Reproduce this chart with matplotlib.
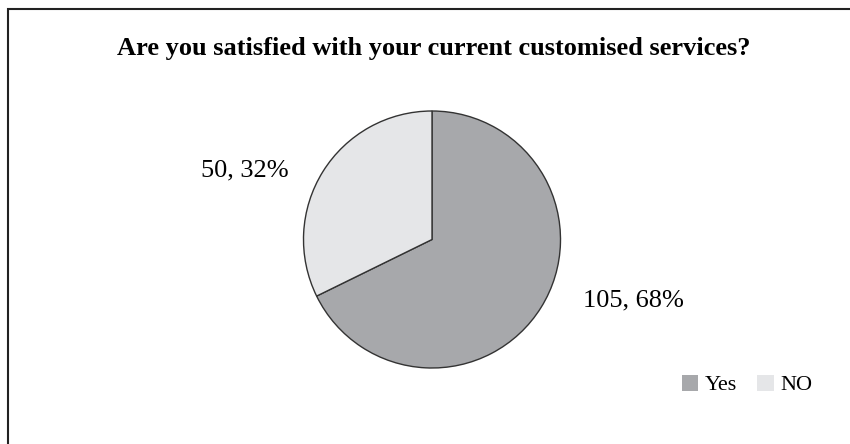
import matplotlib
matplotlib.use("Agg")
import matplotlib.pyplot as plt
from matplotlib.patches import Rectangle, Patch

# survey answers
labels = ["Yes", "NO"]
counts = [105, 50]
colors = ["#a7a8ab", "#e5e6e8"]
title = "Are you satisfied with your current customised services?"

plt.rcParams["font.family"] = ["Liberation Serif", "DejaVu Serif"]

W, H = 850, 444
fig = plt.figure(figsize=(W / 100, H / 100), dpi=100)
fig.patch.set_facecolor("white")

# chart frame (runs off the right and bottom edges)
fig.patches.append(Rectangle((8 / W, -0.1), 1.2, (H - 9) / H + 0.1,
                             transform=fig.transFigure, fill=False,
                             edgecolor="#222222", linewidth=1.5))

ax = fig.add_axes([0, 0, 1, 1])
ax.set_xlim(0, W)
ax.set_ylim(0, H)
ax.set_aspect("equal")
ax.axis("off")

wedges, _ = ax.pie(counts, colors=colors, startangle=90, counterclock=False,
                   center=(432, H - 239.5), radius=128.5,
                   wedgeprops=dict(edgecolor="#333333", linewidth=1.0))
ax.set_xlim(0, W)
ax.set_ylim(0, H)

total = sum(counts)
pct = [round(c / total * 100) for c in counts]
ax.text(633, H - 300, f"{counts[0]}, {pct[0]}%", fontsize=19,
        ha="center", va="center")
ax.text(245, H - 170, f"{counts[1]}, {pct[1]}%", fontsize=19,
        ha="center", va="center")

fig.text(434 / W, 1 - 48 / H, title, fontsize=19, fontweight="bold",
         ha="center", va="center")

handles = [Patch(facecolor=c, edgecolor="none") for c in colors]
ax.legend(handles, labels, loc="center", bbox_to_anchor=(747 / W, 1 - 385 / H),
          bbox_transform=fig.transFigure, ncol=2, frameon=False, fontsize=16,
          handlelength=0.75, handleheight=0.75, handletextpad=0.3,
          columnspacing=0.9)

fig.savefig("out.png", dpi=100, facecolor="white")
